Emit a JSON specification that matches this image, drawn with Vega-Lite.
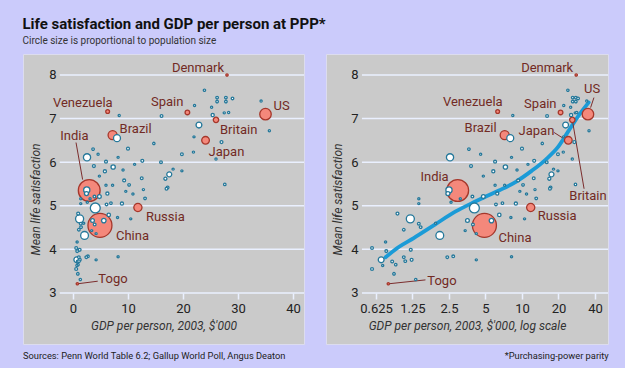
{
  "$schema": "https://vega.github.io/schema/vega-lite/v6.json",
  "background": "#cbcbfb",
  "padding": {"left": 22, "top": 16, "right": 21, "bottom": 6},
  "title": {
    "text": "Life satisfaction and GDP per person at PPP*",
    "subtitle": "Circle size is proportional to population size",
    "anchor": "start",
    "font": "Roboto",
    "fontSize": 15,
    "fontWeight": "bold",
    "color": "#111111",
    "subtitleFont": "Roboto",
    "subtitleFontSize": 10,
    "subtitleColor": "#333333",
    "subtitlePadding": 4,
    "offset": 8
  },
  "datasets": {
    "countries": [
      {"country": "Denmark", "gdp": 28.0, "ls": 8.0, "pop": 5, "grp": "highlight"},
      {"country": "US", "gdp": 35.0, "ls": 7.1, "pop": 290, "grp": "highlight"},
      {"country": "Spain", "gdp": 20.8, "ls": 7.14, "pop": 42, "grp": "highlight"},
      {"country": "Britain", "gdp": 26.0, "ls": 6.97, "pop": 59, "grp": "highlight"},
      {"country": "Japan", "gdp": 24.1, "ls": 6.5, "pop": 127, "grp": "highlight"},
      {"country": "Venezuela", "gdp": 6.3, "ls": 7.16, "pop": 26, "grp": "highlight"},
      {"country": "Brazil", "gdp": 7.2, "ls": 6.62, "pop": 177, "grp": "highlight"},
      {"country": "India", "gdp": 2.95, "ls": 5.35, "pop": 1064, "grp": "highlight"},
      {"country": "China", "gdp": 4.9, "ls": 4.55, "pop": 1288, "grp": "highlight"},
      {"country": "Russia", "gdp": 11.8, "ls": 4.96, "pop": 144, "grp": "highlight"},
      {"country": "Togo", "gdp": 0.79, "ls": 3.21, "pop": 5, "grp": "highlight"},
      {"country": "a1", "gdp": 23.9, "ls": 7.65, "pop": 5, "grp": "other"},
      {"country": "a2", "gdp": 26.2, "ls": 7.48, "pop": 8, "grp": "other"},
      {"country": "a3", "gdp": 26.2, "ls": 7.39, "pop": 8, "grp": "other"},
      {"country": "a4", "gdp": 27.8, "ls": 7.48, "pop": 8, "grp": "other"},
      {"country": "a5", "gdp": 27.8, "ls": 7.39, "pop": 8, "grp": "other"},
      {"country": "a6", "gdp": 29.0, "ls": 7.46, "pop": 8, "grp": "other"},
      {"country": "a7", "gdp": 25.2, "ls": 7.26, "pop": 4, "grp": "other"},
      {"country": "a8", "gdp": 22.1, "ls": 7.3, "pop": 4, "grp": "other"},
      {"country": "a9", "gdp": 27.5, "ls": 7.13, "pop": 4, "grp": "other"},
      {"country": "a10", "gdp": 28.3, "ls": 7.14, "pop": 4, "grp": "other"},
      {"country": "a11", "gdp": 25.4, "ls": 7.08, "pop": 16, "grp": "other"},
      {"country": "a12", "gdp": 22.9, "ls": 6.85, "pop": 70, "grp": "other"},
      {"country": "a13", "gdp": 16.1, "ls": 7.06, "pop": 10, "grp": "other"},
      {"country": "a14", "gdp": 34.2, "ls": 7.4, "pop": 4, "grp": "other"},
      {"country": "a15", "gdp": 35.7, "ls": 6.72, "pop": 4, "grp": "other"},
      {"country": "a16", "gdp": 22.0, "ls": 6.58, "pop": 3, "grp": "other"},
      {"country": "a17", "gdp": 27.0, "ls": 6.46, "pop": 12, "grp": "other"},
      {"country": "a18", "gdp": 14.7, "ls": 6.43, "pop": 5, "grp": "other"},
      {"country": "a19", "gdp": 10.0, "ls": 6.31, "pop": 12, "grp": "other"},
      {"country": "a20", "gdp": 19.8, "ls": 6.18, "pop": 10, "grp": "other"},
      {"country": "a21", "gdp": 21.9, "ls": 6.23, "pop": 4, "grp": "other"},
      {"country": "a22", "gdp": 26.0, "ls": 6.07, "pop": 4, "grp": "other"},
      {"country": "a23", "gdp": 16.0, "ls": 6.0, "pop": 10, "grp": "other"},
      {"country": "a24", "gdp": 18.2, "ls": 5.84, "pop": 3, "grp": "other"},
      {"country": "a25", "gdp": 19.8, "ls": 5.8, "pop": 3, "grp": "other"},
      {"country": "a26", "gdp": 17.5, "ls": 5.72, "pop": 48, "grp": "other"},
      {"country": "a27", "gdp": 17.2, "ls": 5.42, "pop": 10, "grp": "other"},
      {"country": "a28", "gdp": 27.6, "ls": 5.49, "pop": 7, "grp": "other"},
      {"country": "a29", "gdp": 12.5, "ls": 5.63, "pop": 10, "grp": "other"},
      {"country": "a30", "gdp": 12.6, "ls": 6.03, "pop": 12, "grp": "other"},
      {"country": "a31", "gdp": 11.2, "ls": 5.95, "pop": 3, "grp": "other"},
      {"country": "a32", "gdp": 8.4, "ls": 7.07, "pop": 4, "grp": "other"},
      {"country": "a33", "gdp": 8.2, "ls": 6.11, "pop": 3, "grp": "other"},
      {"country": "a34", "gdp": 9.1, "ls": 5.82, "pop": 3, "grp": "other"},
      {"country": "mx", "gdp": 8.0, "ls": 6.55, "pop": 102, "grp": "other"},
      {"country": "b1", "gdp": 3.65, "ls": 6.3, "pop": 8, "grp": "other"},
      {"country": "b2", "gdp": 4.56, "ls": 6.18, "pop": 4, "grp": "other"},
      {"country": "b3", "gdp": 3.8, "ls": 5.91, "pop": 12, "grp": "other"},
      {"country": "b4", "gdp": 4.8, "ls": 5.68, "pop": 3, "grp": "other"},
      {"country": "b5", "gdp": 6.0, "ls": 6.01, "pop": 12, "grp": "other"},
      {"country": "b6", "gdp": 7.3, "ls": 5.89, "pop": 35, "grp": "other"},
      {"country": "b7", "gdp": 5.8, "ls": 5.79, "pop": 15, "grp": "other"},
      {"country": "b8", "gdp": 9.3, "ls": 5.58, "pop": 12, "grp": "other"},
      {"country": "b9", "gdp": 10.2, "ls": 5.48, "pop": 8, "grp": "other"},
      {"country": "b10", "gdp": 12.8, "ls": 5.37, "pop": 4, "grp": "other"},
      {"country": "b11", "gdp": 10.9, "ls": 5.27, "pop": 3, "grp": "other"},
      {"country": "b12", "gdp": 13.1, "ls": 5.17, "pop": 8, "grp": "other"},
      {"country": "b13", "gdp": 17.0, "ls": 5.39, "pop": 10, "grp": "other"},
      {"country": "b14", "gdp": 16.8, "ls": 5.62, "pop": 14, "grp": "other"},
      {"country": "b16", "gdp": 6.0, "ls": 5.47, "pop": 3, "grp": "other"},
      {"country": "b17", "gdp": 7.2, "ls": 5.47, "pop": 3, "grp": "other"},
      {"country": "b18", "gdp": 9.6, "ls": 5.33, "pop": 3, "grp": "other"},
      {"country": "b19", "gdp": 6.25, "ls": 5.28, "pop": 15, "grp": "other"},
      {"country": "b20", "gdp": 4.8, "ls": 5.21, "pop": 25, "grp": "other"},
      {"country": "b21", "gdp": 3.9, "ls": 5.21, "pop": 10, "grp": "other"},
      {"country": "b22", "gdp": 3.1, "ls": 5.16, "pop": 3, "grp": "other"},
      {"country": "b23", "gdp": 6.1, "ls": 5.03, "pop": 8, "grp": "other"},
      {"country": "b24", "gdp": 6.9, "ls": 5.06, "pop": 6, "grp": "other"},
      {"country": "b25", "gdp": 8.9, "ls": 5.05, "pop": 15, "grp": "other"},
      {"country": "b26", "gdp": 4.05, "ls": 4.95, "pop": 215, "grp": "other"},
      {"country": "b27", "gdp": 6.5, "ls": 4.79, "pop": 20, "grp": "other"},
      {"country": "b28", "gdp": 5.6, "ls": 4.66, "pop": 40, "grp": "other"},
      {"country": "b29", "gdp": 3.55, "ls": 4.66, "pop": 25, "grp": "other"},
      {"country": "b30", "gdp": 3.94, "ls": 4.57, "pop": 10, "grp": "other"},
      {"country": "b31", "gdp": 3.4, "ls": 4.43, "pop": 3, "grp": "other"},
      {"country": "b32", "gdp": 4.2, "ls": 4.36, "pop": 3, "grp": "other"},
      {"country": "b33", "gdp": 8.1, "ls": 4.73, "pop": 3, "grp": "other"},
      {"country": "b34", "gdp": 10.5, "ls": 4.7, "pop": 3, "grp": "other"},
      {"country": "b35", "gdp": 8.2, "ls": 3.83, "pop": 3, "grp": "other"},
      {"country": "b36", "gdp": 4.2, "ls": 3.76, "pop": 3, "grp": "other"},
      {"country": "b37", "gdp": 2.42, "ls": 3.82, "pop": 8, "grp": "other"},
      {"country": "b38", "gdp": 2.71, "ls": 3.84, "pop": 10, "grp": "other"},
      {"country": "b39", "gdp": 2.1, "ls": 4.32, "pop": 130, "grp": "other"},
      {"country": "b40", "gdp": 2.5, "ls": 5.36, "pop": 80, "grp": "other"},
      {"country": "b41", "gdp": 2.45, "ls": 5.28, "pop": 30, "grp": "other"},
      {"country": "b42", "gdp": 2.6, "ls": 5.08, "pop": 3, "grp": "other"},
      {"country": "b43", "gdp": 2.55, "ls": 6.11, "pop": 110, "grp": "other"},
      {"country": "c1", "gdp": 1.41, "ls": 5.16, "pop": 3, "grp": "other"},
      {"country": "c2", "gdp": 1.41, "ls": 5.05, "pop": 3, "grp": "other"},
      {"country": "c3", "gdp": 0.94, "ls": 4.82, "pop": 12, "grp": "other"},
      {"country": "c4", "gdp": 1.2, "ls": 4.7, "pop": 140, "grp": "other"},
      {"country": "c5", "gdp": 1.41, "ls": 4.59, "pop": 10, "grp": "other"},
      {"country": "c6", "gdp": 1.46, "ls": 4.51, "pop": 8, "grp": "other"},
      {"country": "c7", "gdp": 1.06, "ls": 4.45, "pop": 8, "grp": "other"},
      {"country": "c8", "gdp": 0.75, "ls": 4.17, "pop": 3, "grp": "other"},
      {"country": "c9", "gdp": 0.58, "ls": 4.03, "pop": 10, "grp": "other"},
      {"country": "c10", "gdp": 0.76, "ls": 3.96, "pop": 10, "grp": "other"},
      {"country": "c11", "gdp": 1.21, "ls": 3.99, "pop": 12, "grp": "other"},
      {"country": "c12", "gdp": 1.23, "ls": 3.76, "pop": 12, "grp": "other"},
      {"country": "c13", "gdp": 1.09, "ls": 3.73, "pop": 8, "grp": "other"},
      {"country": "c14", "gdp": 0.85, "ls": 3.72, "pop": 10, "grp": "other"},
      {"country": "c15", "gdp": 0.91, "ls": 3.65, "pop": 6, "grp": "other"},
      {"country": "c16", "gdp": 0.69, "ls": 3.76, "pop": 70, "grp": "other"},
      {"country": "c17", "gdp": 0.71, "ls": 3.63, "pop": 3, "grp": "other"},
      {"country": "c18", "gdp": 0.58, "ls": 3.55, "pop": 12, "grp": "other"},
      {"country": "c19", "gdp": 0.88, "ls": 3.44, "pop": 8, "grp": "other"},
      {"country": "c20", "gdp": 1.33, "ls": 3.31, "pop": 5, "grp": "other"},
      {"country": "c21", "gdp": 1.94, "ls": 4.6, "pop": 3, "grp": "other"},
      {"country": "c22", "gdp": 1.06, "ls": 3.82, "pop": 8, "grp": "other"}
    ],
    "grid": [{"v": 3}, {"v": 4}, {"v": 5}, {"v": 6}, {"v": 7}, {"v": 8}],
    "fit": [
      {"gdp": 0.75, "ls": 3.82}, {"gdp": 0.97, "ls": 4.06}, {"gdp": 1.28, "ls": 4.26},
      {"gdp": 1.94, "ls": 4.58}, {"gdp": 2.84, "ls": 4.87}, {"gdp": 4.0, "ls": 5.08},
      {"gdp": 4.85, "ls": 5.19}, {"gdp": 6.45, "ls": 5.35}, {"gdp": 8.9, "ls": 5.55},
      {"gdp": 12, "ls": 5.8}, {"gdp": 15.7, "ls": 6.06}, {"gdp": 20, "ls": 6.36},
      {"gdp": 24, "ls": 6.7}, {"gdp": 29, "ls": 7.05}, {"gdp": 35.5, "ls": 7.37}
    ]
  },
  "spacing": 19,
  "hconcat": [
    {
      "width": 281,
      "height": 290,
      "title": {"text": "Sources: Penn World Table 6.2; Gallup World Poll, Angus Deaton", "orient": "bottom", "anchor": "start", "offset": 8, "fontSize": 9.3, "fontWeight": "normal", "font": "Roboto", "color": "#222222"},
      "data": {"name": "countries"},
      "layer": [
        {
          "data": {"name": "grid"},
          "mark": {"type": "rule", "color": "#eaf0ff", "strokeWidth": 1.5},
          "encoding": {
            "y": {"field": "v", "type": "quantitative", "scale": {"domain": [1.83, 8.48], "nice": false, "zero": false},
              "axis": {"values": [3, 4, 5, 6, 7, 8], "offset": -37, "domain": false, "ticks": false, "grid": false, "labelPadding": 4, "title": "Mean life satisfaction", "titlePadding": 6}},
            "x": {"datum": -2.4, "type": "quantitative", "scale": {"domain": [-9.09, 42], "nice": false, "zero": false},
              "axis": {"values": [0, 10, 20, 30, 40], "offset": -51, "domain": false, "tickSize": 6, "tickColor": "#eaf0ff", "tickWidth": 1.5, "grid": false, "labelPadding": 3, "title": "GDP per person, 2003, $'000", "titlePadding": 5}},
            "x2": {"datum": 42}
          }
        },
        {
          "transform": [{"filter": "datum.country === 'India'"}],
          "mark": {"type": "rule", "color": "#7b2d2d", "strokeWidth": 1},
          "encoding": {"x": {"datum": 0.55, "type": "quantitative"}, "y": {"datum": 6.45, "type": "quantitative"}, "x2": {"datum": 1.75}, "y2": {"datum": 5.6}}
        },
        {
          "transform": [{"filter": "datum.country === 'Togo'"}],
          "mark": {"type": "rule", "color": "#7b2d2d", "strokeWidth": 1},
          "encoding": {"x": {"field": "gdp", "type": "quantitative"}, "y": {"field": "ls", "type": "quantitative"}, "x2": {"datum": 4.5}, "y2": {"datum": 3.27}}
        },
        {
          "mark": {"type": "point", "shape": "circle", "filled": true, "strokeWidth": 1.3, "opacity": 1},
          "encoding": {
            "x": {"field": "gdp", "type": "quantitative"},
            "y": {"field": "ls", "type": "quantitative"},
            "size": {"field": "pop", "type": "quantitative", "scale": {"domain": [0, 1300], "range": [3, 580]}, "legend": null},
            "fill": {"field": "grp", "type": "nominal", "scale": {"domain": ["other", "highlight"], "range": ["#ffffff", "#f4887b"]}, "legend": null},
            "stroke": {"field": "grp", "type": "nominal", "scale": {"domain": ["other", "highlight"], "range": ["#25789a", "#a5372b"]}, "legend": null},
            "order": {"field": "pop", "sort": "descending"}
          }
        },
        {
          "encoding": {"x": {"field": "gdp", "type": "quantitative"}, "y": {"field": "ls", "type": "quantitative"}, "text": {"field": "country"}},
          "layer": [
            {"transform": [{"filter": "datum.country === 'Denmark'"}], "mark": {"type": "text", "align": "right", "dx": -3, "dy": -7}},
            {"transform": [{"filter": "datum.country === 'Venezuela'"}], "mark": {"type": "text", "align": "right", "dx": 5, "dy": -9}},
            {"transform": [{"filter": "datum.country === 'Spain'"}], "mark": {"type": "text", "align": "right", "dx": -4, "dy": -10}},
            {"transform": [{"filter": "datum.country === 'US'"}], "mark": {"type": "text", "align": "left", "dx": 8, "dy": -8}},
            {"transform": [{"filter": "datum.country === 'Britain'"}], "mark": {"type": "text", "align": "left", "dx": 4, "dy": 10}},
            {"transform": [{"filter": "datum.country === 'Japan'"}], "mark": {"type": "text", "align": "left", "dx": 3, "dy": 12}},
            {"transform": [{"filter": "datum.country === 'Brazil'"}], "mark": {"type": "text", "align": "left", "dx": 7, "dy": -6}},
            {"transform": [{"filter": "datum.country === 'India'"}], "mark": {"type": "text", "align": "left", "dx": -29, "dy": -54}},
            {"transform": [{"filter": "datum.country === 'Russia'"}], "mark": {"type": "text", "align": "left", "dx": 8, "dy": 9}},
            {"transform": [{"filter": "datum.country === 'China'"}], "mark": {"type": "text", "align": "left", "dx": 16, "dy": 11}},
            {"transform": [{"filter": "datum.country === 'Togo'"}], "mark": {"type": "text", "align": "left", "dx": 21, "dy": -5}}
          ]
        }
      ]
    },
    {
      "width": 282,
      "height": 290,
      "title": {"text": "*Purchasing-power parity", "orient": "bottom", "anchor": "end", "offset": 8, "fontSize": 9.3, "fontWeight": "normal", "font": "Roboto", "color": "#222222"},
      "data": {"name": "countries"},
      "layer": [
        {
          "data": {"name": "grid"},
          "mark": {"type": "rule", "color": "#eaf0ff", "strokeWidth": 1.5},
          "encoding": {
            "y": {"field": "v", "type": "quantitative", "scale": {"domain": [1.83, 8.48], "nice": false, "zero": false},
              "axis": {"values": [3, 4, 5, 6, 7, 8], "offset": -36, "domain": false, "ticks": false, "grid": false, "labelPadding": 4, "title": "Mean life satisfaction", "titlePadding": 6}},
            "x": {"datum": 0.479, "type": "quantitative", "scale": {"type": "log", "domain": [0.242, 51.2], "nice": false},
              "axis": {"values": [0.625, 1.25, 2.5, 5, 10, 20, 40], "format": "~g", "offset": -51, "domain": false, "tickSize": 6, "tickColor": "#eaf0ff", "tickWidth": 1.5, "grid": false, "labelPadding": 3, "title": "GDP per person, 2003, $'000, log scale", "titlePadding": 5}},
            "x2": {"datum": 51.2}
          }
        },
        {
          "data": {"name": "fit"},
          "mark": {"type": "line", "color": "#1b9bd7", "strokeWidth": 3.8, "interpolate": "monotone", "strokeCap": "round"},
          "encoding": {"x": {"field": "gdp", "type": "quantitative"}, "y": {"field": "ls", "type": "quantitative"}}
        },
        {
          "transform": [{"filter": "datum.country === 'Togo'"}],
          "mark": {"type": "rule", "color": "#7b2d2d", "strokeWidth": 1},
          "encoding": {"x": {"field": "gdp", "type": "quantitative"}, "y": {"field": "ls", "type": "quantitative"}, "x2": {"datum": 1.6}, "y2": {"datum": 3.3}}
        },
        {
          "transform": [{"filter": "datum.country === 'US'"}],
          "mark": {"type": "rule", "color": "#7b2d2d", "strokeWidth": 1},
          "encoding": {"x": {"datum": 39.2, "type": "quantitative"}, "y": {"datum": 7.48, "type": "quantitative"}, "x2": {"datum": 36.8}, "y2": {"datum": 7.25}}
        },
        {
          "transform": [{"filter": "datum.country === 'Japan'"}],
          "mark": {"type": "rule", "color": "#7b2d2d", "strokeWidth": 1},
          "encoding": {"x": {"datum": 18.4, "type": "quantitative"}, "y": {"datum": 6.68, "type": "quantitative"}, "x2": {"datum": 21.5}, "y2": {"datum": 6.56}}
        },
        {
          "transform": [{"filter": "datum.country === 'Britain'"}],
          "mark": {"type": "rule", "color": "#7b2d2d", "strokeWidth": 1},
          "encoding": {"x": {"field": "gdp", "type": "quantitative"}, "y": {"field": "ls", "type": "quantitative"}, "x2": {"datum": 32.5}, "y2": {"datum": 5.39}}
        },
        {
          "mark": {"type": "point", "shape": "circle", "filled": true, "strokeWidth": 1.3, "opacity": 1},
          "encoding": {
            "x": {"field": "gdp", "type": "quantitative"},
            "y": {"field": "ls", "type": "quantitative"},
            "size": {"field": "pop", "type": "quantitative", "scale": {"domain": [0, 1300], "range": [3, 580]}, "legend": null},
            "fill": {"field": "grp", "type": "nominal", "scale": {"domain": ["other", "highlight"], "range": ["#ffffff", "#f4887b"]}, "legend": null},
            "stroke": {"field": "grp", "type": "nominal", "scale": {"domain": ["other", "highlight"], "range": ["#25789a", "#a5372b"]}, "legend": null},
            "order": {"field": "pop", "sort": "descending"}
          }
        },
        {
          "encoding": {"x": {"field": "gdp", "type": "quantitative"}, "y": {"field": "ls", "type": "quantitative"}, "text": {"field": "country"}},
          "layer": [
            {"transform": [{"filter": "datum.country === 'Denmark'"}], "mark": {"type": "text", "align": "right", "dx": -3, "dy": -7}},
            {"transform": [{"filter": "datum.country === 'Venezuela'"}], "mark": {"type": "text", "align": "right", "dx": 5, "dy": -10}},
            {"transform": [{"filter": "datum.country === 'Spain'"}], "mark": {"type": "text", "align": "right", "dx": -4, "dy": -8}},
            {"transform": [{"filter": "datum.country === 'US'"}], "mark": {"type": "text", "align": "left", "dx": -4, "dy": -25}},
            {"transform": [{"filter": "datum.country === 'Britain'"}], "mark": {"type": "text", "align": "left", "dx": -3, "dy": 76}},
            {"transform": [{"filter": "datum.country === 'Japan'"}], "mark": {"type": "text", "align": "right", "dx": -14, "dy": -9}},
            {"transform": [{"filter": "datum.country === 'Brazil'"}], "mark": {"type": "text", "align": "right", "dx": -8, "dy": -7}},
            {"transform": [{"filter": "datum.country === 'India'"}], "mark": {"type": "text", "align": "right", "dx": -9, "dy": -13}},
            {"transform": [{"filter": "datum.country === 'Russia'"}], "mark": {"type": "text", "align": "left", "dx": 7, "dy": 8}},
            {"transform": [{"filter": "datum.country === 'China'"}], "mark": {"type": "text", "align": "left", "dx": 14, "dy": 13}},
            {"transform": [{"filter": "datum.country === 'Togo'"}], "mark": {"type": "text", "align": "left", "dx": 39, "dy": -3}}
          ]
        }
      ]
    }
  ],
  "config": {
    "view": {"fill": "#cacaca", "stroke": "#dcdcee", "strokeWidth": 1},
    "axis": {
      "labelFont": "Roboto",
      "labelFontSize": 13,
      "labelColor": "#222222",
      "titleFont": "Roboto",
      "titleFontSize": 12,
      "titleFontStyle": "italic",
      "titleFontWeight": "normal",
      "titleColor": "#333333"
    },
    "text": {"font": "Roboto", "fontSize": 13, "color": "#722a24", "baseline": "middle"}
  }
}
